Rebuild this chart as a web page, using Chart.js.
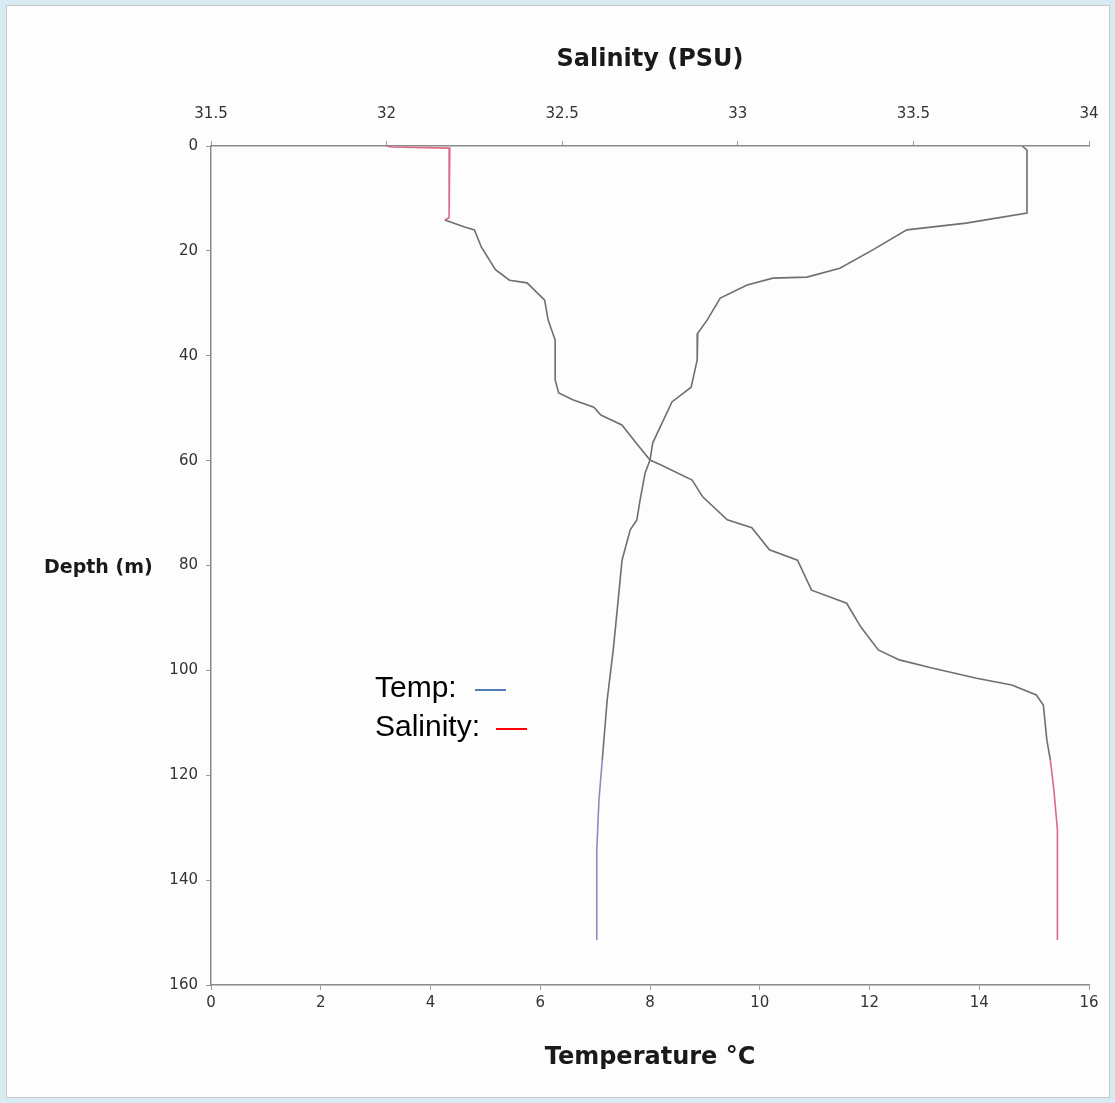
<!DOCTYPE html>
<html lang="en">

<head>
    <meta charset="UTF-8">
    <title>Depth Profile</title>
    <script src="https://cdn.jsdelivr.net/npm/chart.js"></script>
    <style>
        body { margin: 0; background: #d8eaf2; }
        #wrap { position: relative; width: 1115px; height: 1103px; }
    </style>
</head>

<body>
    <div id="wrap"><canvas id="myChart"></canvas></div>
    <script>
        // temperature profile (depth m -> deg C)
        const tempDepth = [0, 0.8, 12.8, 14.7, 16.0, 19.8, 23.3, 25.0, 25.2, 26.5, 29.0, 33.2, 35.7, 40.8, 46.0, 48.8, 56.6, 59.9, 62.4, 67.5, 71.3, 73.2, 79.0, 86.6, 96.1, 105.6, 117.1, 124.7, 134.3, 151.4];
        const tempValues = [14.78, 14.87, 14.87, 13.76, 12.68, 12.06, 11.46, 10.86, 10.24, 9.77, 9.28, 9.04, 8.87, 8.86, 8.75, 8.40, 8.05, 8.00, 7.91, 7.82, 7.76, 7.64, 7.49, 7.42, 7.33, 7.22, 7.13, 7.07, 7.03, 7.03];

        // salinity profile (depth m -> PSU)
        const salDepth = [0, 0.2, 0.4, 13.7, 14.1, 15.4, 16.0, 19.3, 23.6, 25.6, 26.1, 29.4, 33.2, 37.0, 44.6, 47.1, 48.4, 49.8, 51.3, 53.2, 56.6, 59.9, 60.8, 63.7, 66.9, 71.3, 72.8, 77.0, 79.0, 84.7, 87.2, 91.7, 96.1, 98.0, 99.5, 101.5, 102.8, 104.7, 106.6, 113.3, 117.1, 122.8, 130.4, 151.4];
        const salValues = [32.00, 32.015, 32.18, 32.178, 32.166, 32.22, 32.25, 32.27, 32.31, 32.35, 32.40, 32.45, 32.46, 32.48, 32.48, 32.49, 32.53, 32.59, 32.61, 32.67, 32.71, 32.75, 32.78, 32.87, 32.90, 32.97, 33.04, 33.09, 33.17, 33.21, 33.31, 33.35, 33.40, 33.46, 33.55, 33.68, 33.78, 33.85, 33.87, 33.88, 33.89, 33.90, 33.91, 33.91];

        const tempTicks = [0, 2, 4, 6, 8, 10, 12, 14, 16];
        const salTicks = [31.5, 32, 32.5, 33, 33.5, 34];
        const depthTicks = [0, 20, 40, 60, 80, 100, 120, 140, 160];

        const tempPoints = tempDepth.map((d, i) => ({ x: tempValues[i], y: d }));
        const salPoints = salDepth.map((d, i) => ({ x: salValues[i], y: d }));

        const lineGray = '#6f6f6f';

        // panel background, axis titles and the little text legend
        const decor = {
            id: 'decor',
            beforeDraw(chart) {
                const c = chart.ctx;
                c.save();
                c.fillStyle = '#d8eaf2';
                c.fillRect(0, 0, chart.width, chart.height);
                c.fillStyle = '#fdfdfd';
                c.fillRect(6, 5, 1104, 1093);
                c.strokeStyle = '#c8c8c8';
                c.lineWidth = 1;
                c.strokeRect(6.5, 5.5, 1103, 1092);
                c.restore();
            },
            afterDraw(chart) {
                const c = chart.ctx;
                c.save();
                c.fillStyle = '#1a1a1a';
                c.textBaseline = 'middle';
                c.font = 'bold 24px "DejaVu Sans"';
                c.textAlign = 'center';
                c.fillText('Salinity (PSU)', 650, 60);
                c.fillText('Temperature °C', 650, 1058);
                c.font = 'bold 19px "DejaVu Sans"';
                c.textAlign = 'left';
                c.fillText('Depth (m)', 44, 568);

                c.font = '30px "Liberation Sans"';
                c.fillStyle = '#000';
                c.fillText('Temp:', 375, 689);
                c.fillText('Salinity:', 375, 728);
                c.lineWidth = 2;
                c.strokeStyle = '#4f81bd';
                c.beginPath(); c.moveTo(475, 690); c.lineTo(506, 690); c.stroke();
                c.strokeStyle = '#ff0000';
                c.beginPath(); c.moveTo(496, 729); c.lineTo(527, 729); c.stroke();
                c.restore();
            }
        };

        const tickFont = { family: 'DejaVu Sans', size: 15 };
        const plainLabel = v => String(v);

        const ctx = document.getElementById('myChart').getContext('2d');
        new Chart(ctx, {
            type: 'line',
            data: {
                datasets: [{
                    label: 'Temp',
                    data: tempPoints,
                    xAxisID: 'xT',
                    borderColor: lineGray,
                    borderWidth: 1.6,
                    pointRadius: 0,
                    tension: 0,
                    segment: {
                        borderColor: s => s.p0.parsed.y >= 115 ? '#8a8cc4' : lineGray
                    }
                }, {
                    label: 'Salinity',
                    data: salPoints,
                    xAxisID: 'xS',
                    borderColor: lineGray,
                    borderWidth: 1.6,
                    pointRadius: 0,
                    tension: 0,
                    segment: {
                        borderColor: s => (s.p0.parsed.y < 14 || s.p0.parsed.y >= 117) ? '#dc6a86' : lineGray
                    }
                }]
            },
            options: {
                responsive: true,
                maintainAspectRatio: false,
                animation: false,
                layout: { padding: { left: 0, top: 0, right: 26, bottom: 0 } },
                plugins: {
                    legend: { display: false },
                    tooltip: { enabled: false }
                },
                scales: {
                    xT: {
                        type: 'linear',
                        position: 'bottom',
                        min: 0,
                        max: 16,
                        afterBuildTicks: s => { s.ticks = tempTicks.map(v => ({ value: v })); },
                        afterFit: s => { s.height = 118; s.paddingLeft = 0; s.paddingRight = 0; },
                        ticks: { font: tickFont, color: '#333', padding: 4, maxRotation: 0, callback: plainLabel },
                        grid: { drawOnChartArea: false, tickLength: 5, color: '#999' },
                        border: { color: '#8a8a8a', width: 1.5 }
                    },
                    xS: {
                        type: 'linear',
                        position: 'top',
                        min: 31.5,
                        max: 34,
                        afterBuildTicks: s => { s.ticks = salTicks.map(v => ({ value: v })); },
                        afterFit: s => { s.height = 146; s.paddingLeft = 0; s.paddingRight = 0; },
                        ticks: { font: tickFont, color: '#333', padding: 18, maxRotation: 0, callback: plainLabel },
                        grid: { drawOnChartArea: false, tickLength: 5, color: '#999' },
                        border: { color: '#8a8a8a', width: 1.5 }
                    },
                    y: {
                        type: 'linear',
                        reverse: true,
                        min: 0,
                        max: 160,
                        afterBuildTicks: s => { s.ticks = depthTicks.map(v => ({ value: v })); },
                        afterFit: s => { s.width = 211; s.paddingTop = 0; s.paddingBottom = 0; },
                        ticks: { font: tickFont, color: '#333', padding: 8, callback: plainLabel },
                        grid: { drawOnChartArea: false, tickLength: 5, color: '#999' },
                        border: { color: '#8a8a8a', width: 1.5 }
                    }
                }
            },
            plugins: [decor]
        });
    </script>
</body>

</html>
